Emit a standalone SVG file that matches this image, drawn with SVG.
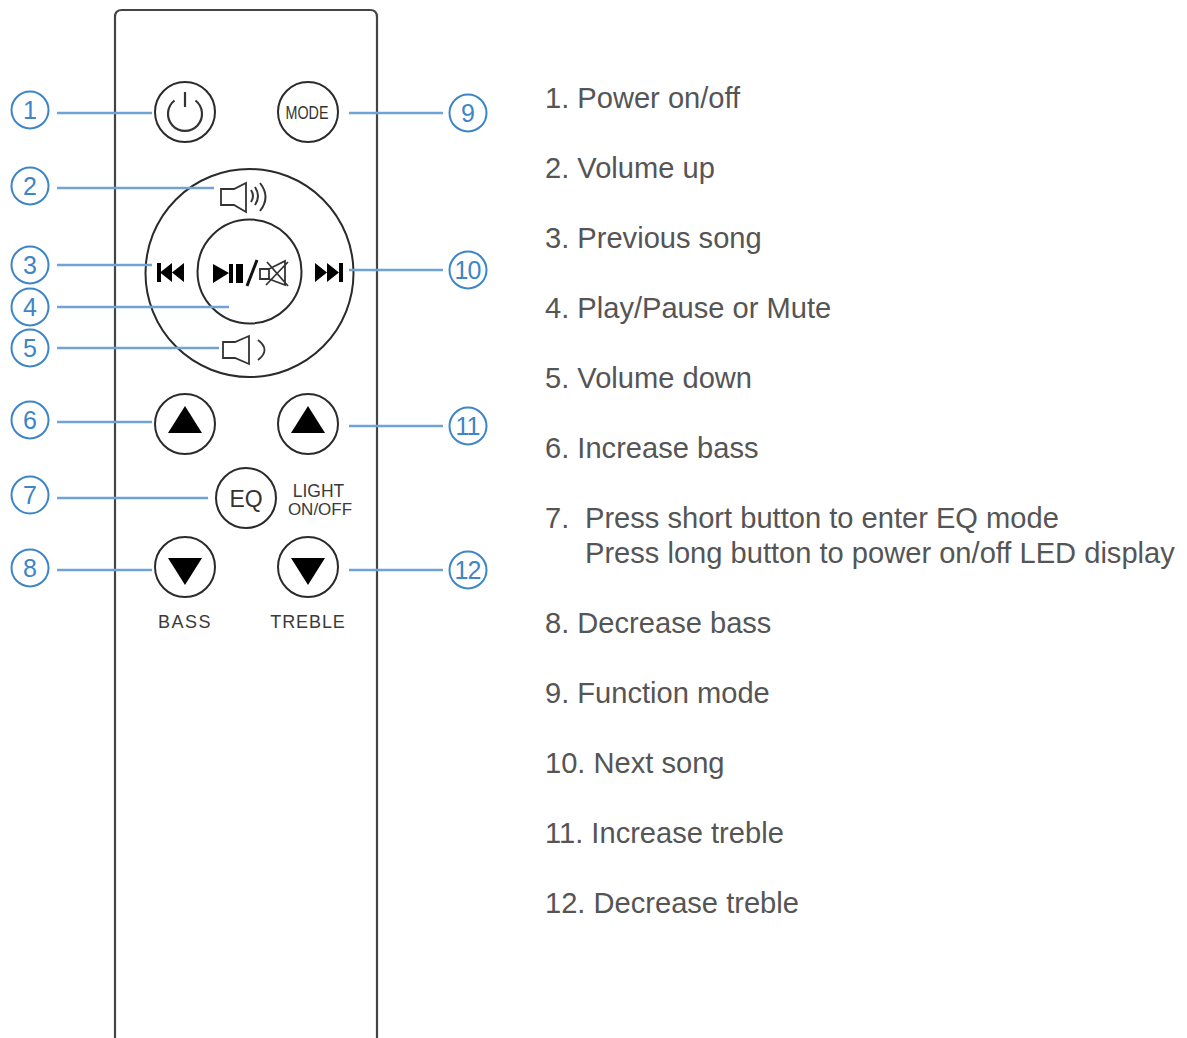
<svg xmlns="http://www.w3.org/2000/svg" width="1187" height="1038" viewBox="0 0 1187 1038">
<defs>
<style>
.body{fill:#fff;stroke:#444;stroke-width:2.200}
.btn{fill:#fff;stroke:#2a2a2a;stroke-width:2}
.ln{fill:none;stroke:#333;stroke-width:1.800}
.fillk{fill:#000;stroke:none}
.conn{fill:none;stroke:#6fa3d8;stroke-width:2.400}
.badge{fill:#fff;stroke:#3d85c6;stroke-width:2}
.num{font:25px "Liberation Sans",sans-serif;fill:#3d85c6;text-anchor:middle}
.num2{font:25px "Liberation Sans",sans-serif;fill:#3d85c6;text-anchor:middle;letter-spacing:-1px}
.item{font:29.100px "Liberation Sans",sans-serif;fill:#555}
.lbl{font:17.500px "Liberation Sans",sans-serif;fill:#3a3a3a;text-anchor:middle}
</style>
</defs>
<g id="remote">
<path class="body" d="M115 1040V17q0-7 7-7H370q7 0 7 7V1040"/>
</g>
<g id="btn-power">
<circle class="btn" cx="185" cy="112" r="30"/>
<path class="ln" style="stroke-width:2.200" d="M174.500 100.500a17 17 0 1 0 21 0M185 92V107"/>
</g>
<g id="btn-mode">
<circle class="btn" cx="308" cy="112" r="30"/>
<text x="307" y="118.500" style="font:19px 'Liberation Sans',sans-serif;fill:#333;text-anchor:middle" textLength="43" lengthAdjust="spacingAndGlyphs">MODE</text>
</g>
<g id="dial">
<circle class="btn" cx="249.500" cy="273" r="104"/>
</g>
<g id="btn-play">
<circle class="btn" cx="249.500" cy="271.500" r="52"/>
<path class="fillk" d="M213 264L229 273L213 283ZM229 264H233V283H229ZM236 264H243V283H236Z"/>
<path class="ln" style="stroke-width:3;stroke:#111" d="M257 260L247 286"/>
<path class="ln" d="M260 269H269V279H260ZM269 269L285 261V285L269 279M267 262L288 286M288 262L266 285"/>
</g>
<g id="vol-up">
<path class="ln" d="M221 189H234L246 183V212L234 205H221Z"/>
<path class="ln" style="stroke-width:2" d="M251 190q4 6 0 12M255 187q6 9 0 18M260 183q11 14 0 28"/>
</g>
<g id="vol-down">
<path class="ln" d="M223 342H235L249 336V364L235 358H223Z"/>
<path class="ln" d="M258 340q13 10 0 20"/>
</g>
<g id="prev">
<path class="fillk" d="M157 263H161V282H157ZM160 272.500L172 263V282ZM172 272.500L184 263V282Z"/>
</g>
<g id="next">
<path class="fillk" d="M315 263L327 272.500L315 282ZM327 263L339 272.500L327 282ZM339 263H343V282H339Z"/>
</g>
<g id="btn-bass-up">
<circle class="btn" cx="185" cy="424" r="30"/>
<path class="fillk" d="M185 406L202 433H168Z"/>
</g>
<g id="btn-treble-up">
<circle class="btn" cx="308" cy="424" r="30"/>
<path class="fillk" d="M308 406L325 433H291Z"/>
</g>
<g id="btn-eq">
<circle class="btn" cx="246" cy="498" r="30"/>
<text x="246" y="507" style="font:23px 'Liberation Sans',sans-serif;fill:#333;text-anchor:middle">EQ</text>
<text class="lbl" x="318.500" y="497">LIGHT</text>
<text class="lbl" x="320" y="515" style="font-size:17px">ON/OFF</text>
</g>
<g id="btn-bass-down">
<circle class="btn" cx="185" cy="567" r="30"/>
<path class="fillk" d="M168 558H202L185 585Z"/>
<text class="lbl" x="185" y="627.500" style="font-size:18px;letter-spacing:1.500px">BASS</text>
</g>
<g id="btn-treble-down">
<circle class="btn" cx="308" cy="567" r="30"/>
<path class="fillk" d="M291 558H325L308 585Z"/>
<text class="lbl" x="308" y="627.500" style="font-size:18px;letter-spacing:.9px">TREBLE</text>
</g>
<g id="connectors">
<path class="conn" d="M57 113H152M57 188H214M57 265H152M57 307H229M57 348H219M57 422H152M57 498H208M57 570H152M349 113H443M349 270H443M349 426H443M349 570H443"/>
</g>
<g id="badge-1"><circle class="badge" cx="30" cy="110" r="18.500"/><text class="num" x="30" y="119">1</text></g>
<g id="badge-2"><circle class="badge" cx="30" cy="186" r="18.500"/><text class="num" x="30" y="195">2</text></g>
<g id="badge-3"><circle class="badge" cx="30" cy="265" r="18.500"/><text class="num" x="30" y="274">3</text></g>
<g id="badge-4"><circle class="badge" cx="30" cy="307" r="18.500"/><text class="num" x="30" y="316">4</text></g>
<g id="badge-5"><circle class="badge" cx="30" cy="348" r="18.500"/><text class="num" x="30" y="357">5</text></g>
<g id="badge-6"><circle class="badge" cx="30" cy="420" r="18.500"/><text class="num" x="30" y="429">6</text></g>
<g id="badge-7"><circle class="badge" cx="30" cy="495" r="18.500"/><text class="num" x="30" y="504">7</text></g>
<g id="badge-8"><circle class="badge" cx="30" cy="568" r="18.500"/><text class="num" x="30" y="577">8</text></g>
<g id="badge-9"><circle class="badge" cx="468" cy="113" r="18.500"/><text class="num" x="468" y="122">9</text></g>
<g id="badge-10"><circle class="badge" cx="468" cy="270" r="18.500"/><text class="num2" x="467.500" y="279">10</text></g>
<g id="badge-11"><circle class="badge" cx="468" cy="426" r="18.500"/><text class="num2" x="467.500" y="435">11</text></g>
<g id="badge-12"><circle class="badge" cx="468" cy="570" r="18.500"/><text class="num2" x="467.500" y="579">12</text></g>
<g id="legend">
<text class="item" x="545" y="108">1. Power on/off</text>
<text class="item" x="545" y="178">2. Volume up</text>
<text class="item" x="545" y="248">3. Previous song</text>
<text class="item" x="545" y="318">4. Play/Pause or Mute</text>
<text class="item" x="545" y="388">5. Volume down</text>
<text class="item" x="545" y="458">6. Increase bass</text>
<text class="item" x="545" y="528">7.</text>
<text class="item" x="585" y="528">Press short button to enter EQ mode</text>
<text class="item" x="585" y="563">Press long button to power on/off LED display</text>
<text class="item" x="545" y="633">8. Decrease bass</text>
<text class="item" x="545" y="703">9. Function mode</text>
<text class="item" x="545" y="773">10. Next song</text>
<text class="item" x="545" y="843">11. Increase treble</text>
<text class="item" x="545" y="913">12. Decrease treble</text>
</g>
</svg>
